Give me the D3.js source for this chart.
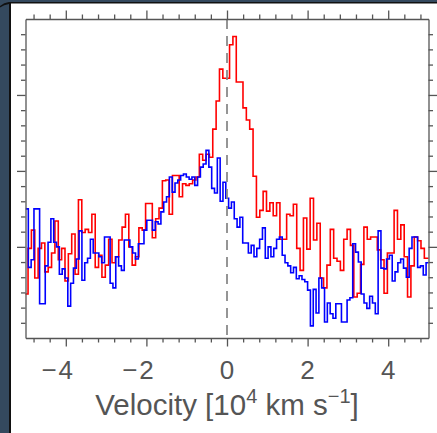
<!DOCTYPE html>
<html>
<head>
<meta charset="utf-8">
<script src="https://cdn.jsdelivr.net/npm/d3@7"></script>
<style>
  html, body { margin: 0; padding: 0; background: #fff; }
  svg { display: block; }
</style>
</head>
<body>
<div id="chart"></div>
<script>
const W = 437, H = 433;

// velocity axis, 10^4 km/s
const xDomain = [-5, 5];
const xMajorTicks = [-4, -2, 0, 2, 4];
const xMinorStep = 0.4;

// flux axis, arbitrary units (no labels in the figure)
const yDomain = [0, 4.2];
const yMajorTicks = [1.2, 2.2, 3.2];
const yMinorStep = 0.2;

// red spectrum, binned in velocity
const redStart = -5.02;
const redWidth = 1 / 12;
const redFlux = [
  0.58, 1.18, 1.42, 0.79, 1.18, 1.25, 0.87, 0.93, 1.12, 1.54,
  1.03, 1.18, 0.75, 1.11, 1.37, 0.84, 1.82, 1.39, 1.43, 1.39,
  1.63, 0.93, 1.09, 0.80, 0.96, 1.30, 0.99, 1.07, 1.29, 1.46,
  1.63, 1.20, 0.96, 1.07, 1.45, 1.42, 1.77, 1.77, 1.32, 1.57,
  1.71, 2.07, 2.08, 1.63, 2.14, 2.14, 1.86, 2.03, 2.01, 2.03,
  2.08, 2.12, 2.42, 2.34, 2.42, 2.38, 2.75, 3.12, 3.54, 3.42,
  3.42, 3.86, 3.97, 3.37, 3.37, 3.03, 2.87, 2.75, 2.13, 1.59,
  1.68, 1.93, 1.67, 1.78, 1.61, 1.78, 1.30, 1.30, 1.63, 1.61,
  1.76, 1.18, 0.89, 1.58, 1.17, 1.84, 1.29, 1.51, 0.79, 0.66,
  0.96, 1.43, 1.05, 1.01, 0.89, 1.30, 1.43, 1.22, 0.54, 0.59,
  0.97, 1.46, 1.30, 1.33, 1.33, 1.16, 1.03, 0.59, 1.12, 1.12,
  1.68, 1.30, 1.49, 1.07, 0.54, 0.95, 1.33, 1.28, 1.18, 1.05,
  1.05
];

// blue spectrum, narrower velocity bins
const blueStart = -5.0;
const blueWidth = 0.07;
const blueFlux = [
  1.70, 0.93, 1.03, 1.70, 1.70, 0.45, 0.45, 0.95, 1.26, 1.57,
  1.26, 1.20, 0.84, 0.91, 0.79, 0.42, 0.72, 0.92, 1.04, 1.41,
  0.76, 0.99, 1.05, 1.30, 1.12, 1.12, 1.07, 0.99, 1.33, 1.33,
  0.72, 0.66, 1.07, 0.95, 0.89, 1.29, 1.29, 1.20, 1.12, 1.04,
  1.24, 1.24, 1.42, 1.55, 1.55, 1.42, 1.53, 1.50, 1.66, 1.79,
  1.86, 2.12, 1.92, 2.04, 2.08, 2.14, 2.16, 2.12, 2.09, 2.12,
  2.01, 2.12, 2.25, 2.29, 2.47, 2.25, 1.97, 1.91, 2.37, 1.80,
  2.05, 1.84, 1.71, 1.79, 1.57, 1.46, 1.59, 1.25, 1.25, 1.12,
  1.22, 1.07, 1.18, 1.30, 1.45, 1.05, 1.20, 1.07, 1.18, 1.30,
  1.33, 1.09, 0.99, 0.95, 0.86, 0.93, 0.78, 0.82, 0.77, 0.74,
  0.63, 0.16, 0.64, 0.33, 0.79, 0.66, 0.21, 0.46, 0.32, 0.26,
  0.45, 0.45, 0.21, 0.21, 0.50, 0.53, 1.24, 1.13, 1.00, 0.58,
  0.46, 0.39, 0.55, 0.46, 0.32, 1.41, 0.92, 0.91, 1.04, 1.09,
  0.75, 0.87, 0.99, 1.04, 0.92, 0.80, 1.18, 1.33, 1.33, 0.93,
  0.95, 0.83, 0.99
];

const plot = {left: 25.5, right: 428.5, top: 19, bottom: 338};
const axisColor = '#555';
const textColor = '#555';
const font = '"Liberation Sans", Arial, Helvetica, sans-serif';

const svg = d3.select('#chart').append('svg')
    .attr('width', W)
    .attr('height', H);

svg.append('rect').attr('width', W).attr('height', H).attr('fill', '#fff');

// window frame remnants on the left and top
svg.append('rect').attr('x', 0).attr('y', 0).attr('width', W).attr('height', 2.5).attr('fill', '#34495e');
svg.append('rect').attr('x', 0).attr('y', 0).attr('width', 9).attr('height', H).attr('fill', '#34495e');
svg.append('rect').attr('x', 9).attr('y', 2).attr('width', W - 9).attr('height', 1.5).attr('fill', '#111');
svg.append('rect').attr('x', 9).attr('y', 2).attr('width', 2).attr('height', H - 2).attr('fill', '#111');
svg.append('path').attr('d', 'M0,6 Q4,2.5 9,2 L11,2 L11,4 L9,4 Q4,4.5 0,7.5 Z').attr('fill', '#111');

const x = d3.scaleLinear().domain(xDomain).range([plot.left, plot.right]);
const y = d3.scaleLinear().domain(yDomain).range([plot.bottom, plot.top]);

svg.append('clipPath').attr('id', 'clip')
    .append('rect')
    .attr('x', plot.left).attr('y', plot.top)
    .attr('width', plot.right - plot.left)
    .attr('height', plot.bottom - plot.top);

function steps(start, width, flux) {
    const pts = flux.map((f, i) => ({v: start + i * width, f}));
    pts.push({v: start + flux.length * width, f: flux[flux.length - 1]});
    return pts;
}

const line = d3.line()
    .x(d => x(d.v))
    .y(d => y(d.f))
    .curve(d3.curveStepAfter);

const g = svg.append('g').attr('clip-path', 'url(#clip)');

g.append('path')
    .datum(steps(redStart, redWidth, redFlux))
    .attr('d', line)
    .attr('fill', 'none')
    .attr('stroke', '#ff0000')
    .attr('stroke-width', 1.6)
    .attr('stroke-linejoin', 'miter');

g.append('path')
    .datum(steps(blueStart, blueWidth, blueFlux))
    .attr('d', line)
    .attr('fill', 'none')
    .attr('stroke', '#0000ff')
    .attr('stroke-width', 1.6)
    .attr('stroke-linejoin', 'miter');

// zero velocity marker
svg.append('line')
    .attr('x1', x(0)).attr('x2', x(0))
    .attr('y1', plot.top).attr('y2', plot.bottom)
    .attr('stroke', '#8a8a8a')
    .attr('stroke-width', 1.8)
    .attr('stroke-dasharray', '10,7');

const round = v => Math.round(v * 100) / 100;
const xMinor = d3.range(-4.8, 4.81, xMinorStep).map(round).filter(v => !xMajorTicks.includes(v));
const yMinor = d3.range(yMinorStep, yDomain[1] - 0.01, yMinorStep).map(round).filter(v => !yMajorTicks.includes(v));

function drawAxis(axisFn, scale, transform, minor, major) {
    const a = svg.append('g').attr('transform', transform);
    a.call(axisFn(scale).tickValues(minor).tickSize(4.5).tickSizeOuter(0).tickFormat(''));
    const b = svg.append('g').attr('transform', transform);
    b.call(axisFn(scale).tickValues(major).tickSize(8.5).tickSizeOuter(0).tickFormat(''));
    b.select('.domain').remove();
    [a, b].forEach(s => {
        s.selectAll('path, line').attr('stroke', axisColor).attr('stroke-width', 1.3);
    });
}

drawAxis(d3.axisBottom, x, `translate(0,${plot.bottom})`, xMinor, xMajorTicks);
drawAxis(d3.axisTop, x, `translate(0,${plot.top})`, xMinor, xMajorTicks);
drawAxis(d3.axisLeft, y, `translate(${plot.left},0)`, yMinor, yMajorTicks);
drawAxis(d3.axisRight, y, `translate(${plot.right},0)`, yMinor, yMajorTicks);

// tick labels: the digit sits centred on the tick, the minus hangs to the left
const labels = svg.append('g')
    .attr('font-family', font)
    .attr('font-size', 26)
    .attr('fill', textColor);

labels.selectAll('text.num')
    .data(xMajorTicks)
    .join('text')
    .attr('class', 'num')
    .attr('x', d => x(d))
    .attr('y', 379)
    .attr('text-anchor', 'middle')
    .text(d => Math.abs(d));

labels.selectAll('text.minus')
    .data(xMajorTicks.filter(d => d < 0))
    .join('text')
    .attr('class', 'minus')
    .attr('x', d => x(d) - 9)
    .attr('y', 379)
    .attr('text-anchor', 'end')
    .text('\u2212');

const title = svg.append('text')
    .attr('x', (plot.left + plot.right) / 2)
    .attr('y', 415)
    .attr('text-anchor', 'middle')
    .attr('font-family', font)
    .attr('font-size', 29.5)
    .attr('fill', textColor);
title.append('tspan').text('Velocity [10');
title.append('tspan').attr('font-size', 20).attr('dy', -12).text('4');
title.append('tspan').attr('dy', 12).text(' km s');
title.append('tspan').attr('font-size', 20).attr('dy', -12).text('\u22121');
title.append('tspan').attr('dy', 12).text(']');
</script>
</body>
</html>
